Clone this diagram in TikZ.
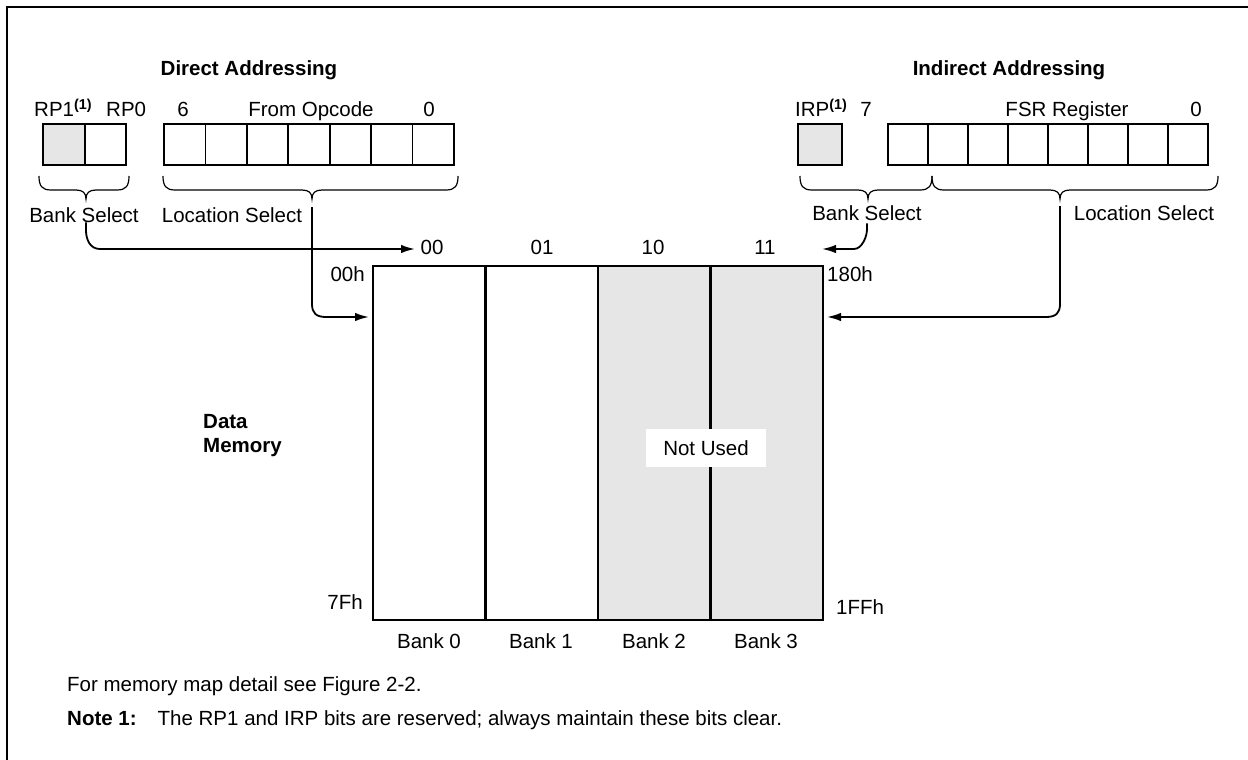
\documentclass[tikz,border=0pt]{standalone}
\usepackage{fontspec}
\setmainfont{Liberation Sans}
\usetikzlibrary{arrows.meta}
\definecolor{memgray}{RGB}{230,230,230}
\newcommand\bracedraw[3]{\draw[brc] (#1,176) .. controls (#1,186) and (#1+3,190) .. (#1+12,190) -- (#2-10,190) .. controls (#2-3,190) and (#2,193) .. (#2,199) .. controls (#2,193) and (#2+3,190) .. (#2+10,190) -- (#3-12,190) .. controls (#3-3,190) and (#3,186) .. (#3,176);}
\begin{document}
\begin{tikzpicture}[x=1pt,y=-1pt,
  every node/.style={font=\fontsize{20.5}{24.5}\selectfont, inner sep=0pt},
  lbl/.style={anchor=base},
  hdr/.style={anchor=base, font=\fontsize{20.5}{24.5}\selectfont\bfseries},
  cell/.style={draw, line width=1.7pt, minimum height=41pt, inner sep=0pt},
  bankfill/.style={minimum width=112.5pt, minimum height=354pt},
  bankline/.style={line width=2pt},
  brc/.style={line width=1.2pt},
  conn/.style={line width=1.8pt, -{Latex[length=14pt,width=8.5pt]}},
]
\useasboundingbox (0,0) rectangle (1248,760);
\draw[line width=2.5pt] (1248,7) -- (7,7) -- (7,760);

% headings
\node[hdr] (hd) at (249,75) {Direct Addressing};
\node[hdr] (hi) at (1009,75) {Indirect Addressing};

% direct register
\node[lbl, anchor=base west] (rp1) at (34,117) {RP1\textsuperscript{\bfseries(1)}};
\node[lbl, anchor=base west] (rp0) at (106,117) {RP0};
\node[cell, fill=memgray, minimum width=41.5pt] (b1) at (64,144.5) {};
\node[cell, minimum width=41.5pt] (b0) at (105.5,144.5) {};
\foreach \i in {0,...,6} {
  \node[cell, minimum width=41.43pt] (op\i) at ({184.7+41.43*\i},144.5) {};
}
\node[lbl] (six) at (183,117) {6};
\node[lbl] (fo) at (311,117) {From Opcode};
\node[lbl] (zl) at (429,117) {0};

% indirect register
\node[lbl, anchor=base west] (irp) at (795,117) {IRP\textsuperscript{\bfseries(1)}};
\node[cell, fill=memgray, minimum width=44pt] (ib) at (820,144.5) {};
\foreach \i in {0,...,7} {
  \node[cell, minimum width=40pt] (fsr\i) at ({908+40*\i},144.5) {};
}
\node[lbl] (sev) at (866,117) {7};
\node[lbl] (fr) at (1067,117) {FSR Register};
\node[lbl] (zr) at (1196,117) {0};

% braces
\bracedraw{39}{86}{129}
\bracedraw{163}{312}{458}
\bracedraw{800}{868}{932}
\bracedraw{932}{1060}{1218}

\node[lbl] (bsL) at (84,222) {Bank Select};
\node[lbl] (lsL) at (232,222) {Location Select};
\node[lbl] (bsR) at (867,220) {Bank Select};
\node[lbl] (lsR) at (1144,220) {Location Select};

% memory banks
\node[bankfill] (bank0) at (429.25,443) {};
\node[bankfill] (bank1) at (541.75,443) {};
\node[bankfill, fill=memgray] (bank2) at (654.25,443) {};
\node[bankfill, fill=memgray] (bank3) at (766.75,443) {};
\foreach \b in {bank0,bank1,bank2,bank3} {
  \draw[bankline] (\b.north west) rectangle (\b.south east);
}

\node[fill=white, minimum width=120pt, minimum height=38pt] (nu) at (706,448) {};
\node[lbl] (nut) at (706,455) {Not Used};

\node[lbl] (a00) at (432,254) {00};
\node[lbl] (a01) at (542,254) {01};
\node[lbl] (a10) at (653,254) {10};
\node[lbl] (a11) at (765,254) {11};
\node[lbl, anchor=base east] (h00) at (365,281) {00h};
\node[lbl, anchor=base west] (h180) at (827,281) {180h};
\node[lbl, anchor=base east] (h7f) at (363,609) {7Fh};
\node[lbl, anchor=base west] (h1ff) at (836,614) {1FFh};

\node[lbl] (n0) at (429,648) {Bank 0};
\node[lbl] (n1) at (541,648) {Bank 1};
\node[lbl] (n2) at (654,648) {Bank 2};
\node[lbl] (n3) at (766,648) {Bank 3};

\node[anchor=base west, font=\fontsize{20.5}{24}\selectfont\bfseries, align=left] (dm) at (203,452) {Data\\Memory};

% connectors
\coordinate (lsLtip) at (312,207);
\coordinate (lsRtip) at (1060,206);
\coordinate (inL) at (369,317);
\coordinate (inR) at (827,317);
\coordinate (sel00) at (415,249);
\coordinate (sel11) at (822,249);
\draw[conn] (bsL.south) ++(2,0) -- ++(0,8) .. controls +(0,9) and (90,249) .. (100,249) -- (sel00);
\draw[conn] (lsLtip) -- (312,304) .. controls (312,313) and (316,317) .. (326,317) -- (inL);
\draw[conn] (lsRtip) -- (1060,304) .. controls (1060,313) and (1056,317) .. (1046,317) -- (inR);
\draw[conn] (bsR.south) ++(0,3) -- ++(0,6) .. controls +(0,7) and (862,249) .. (854,249) -- (sel11);

% notes
\node[lbl, anchor=base west] (fm) at (67,691) {For memory map detail see Figure 2-2.};
\node[lbl, anchor=base west] (nt) at (67,725) {\textbf{Note 1:}\hspace{21pt}The RP1 and IRP bits are reserved; always maintain these bits clear.};
\end{tikzpicture}
\end{document}
